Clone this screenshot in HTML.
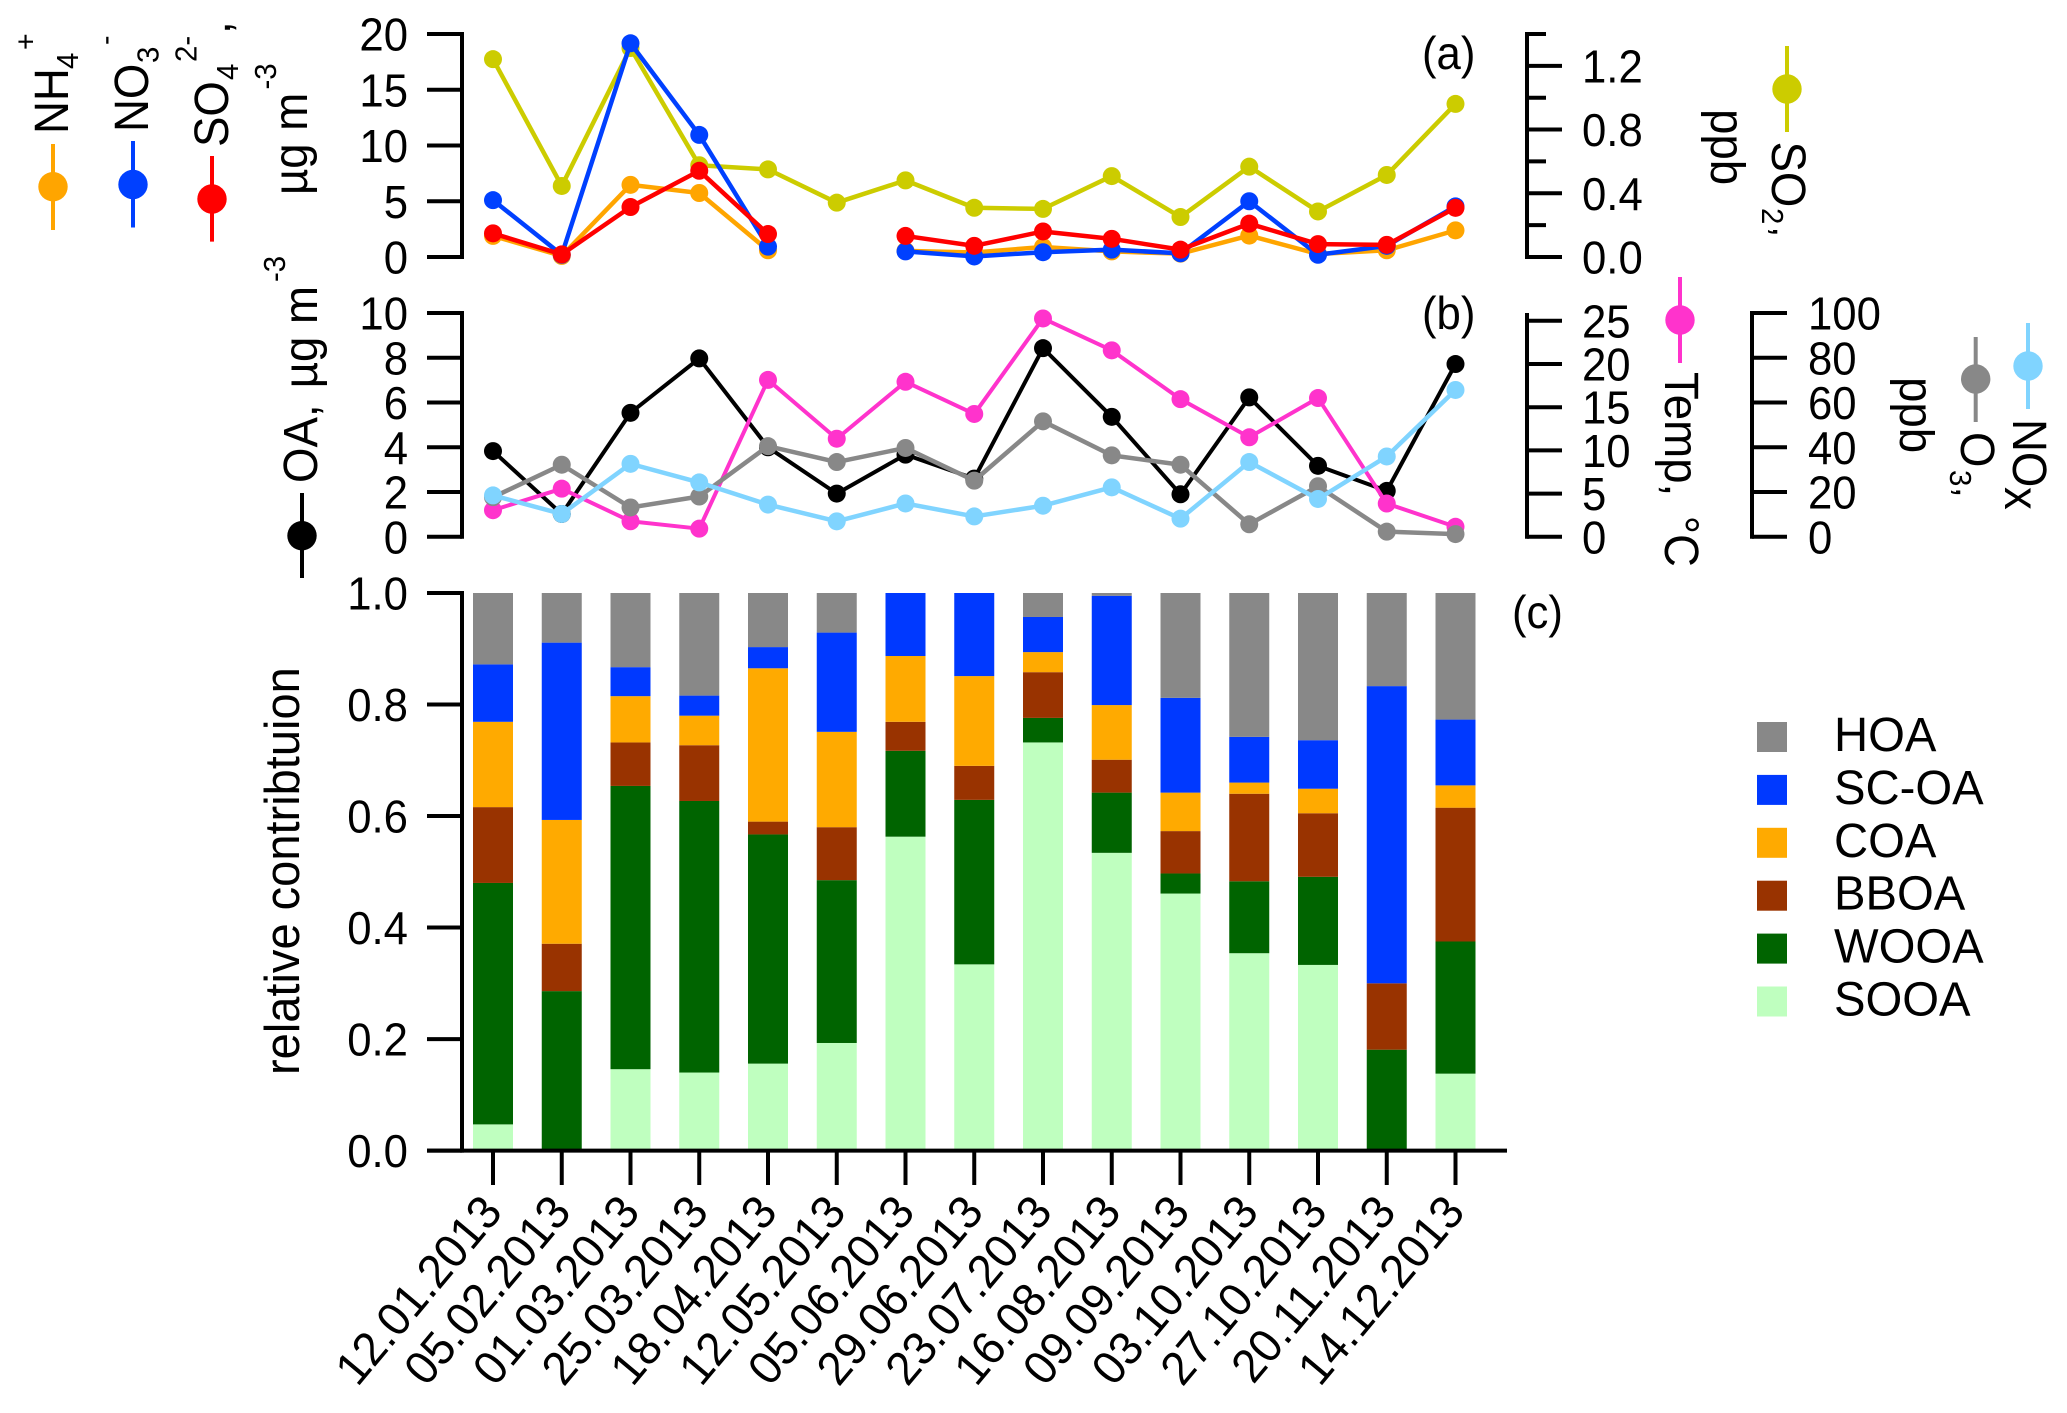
<!DOCTYPE html>
<html>
<head>
<meta charset="utf-8">
<title>Aerosol composition time series</title>
<style>
html,body{margin:0;padding:0;background:#fff;}
svg{display:block;}
text{font-family:"Liberation Sans",Arial,sans-serif;fill:#000;}
</style>
</head>
<body>
<svg id="chart" width="2067" height="1413" viewBox="0 0 2067 1413" xmlns="http://www.w3.org/2000/svg">
  <g id="static-labels" font-size="48">
    <text font-size="46" transform="translate(1422,69) scale(.95,1)">(a)</text>
    <text font-size="46" transform="translate(1422,329) scale(.95,1)">(b)</text>
    <text font-size="46" transform="translate(1512,628) scale(.95,1)">(c)</text>

    <text transform="translate(68,134) rotate(-90) scale(.95,1)">NH</text>
    <text font-size="31" transform="translate(78,69) rotate(-90) scale(.95,1)">4</text>
    <text font-size="30" transform="translate(35.5,50) rotate(-90) scale(.95,1)">+</text>
    <text transform="translate(148,132) rotate(-90) scale(.95,1)">NO</text>
    <text font-size="31" transform="translate(158.5,63) rotate(-90) scale(.95,1)">3</text>
    <text font-size="30" transform="translate(115,45) rotate(-90) scale(.95,1)">-</text>
    <text transform="translate(228,147) rotate(-90) scale(.95,1)">SO</text>
    <text font-size="31" transform="translate(238,80) rotate(-90) scale(.95,1)">4</text>
    <text font-size="31" transform="translate(196.6,62) rotate(-90) scale(.95,1)">2-</text>
    <text transform="translate(230,34) rotate(-90) scale(.95,1)">,</text>
    <text transform="translate(307,195) rotate(-90) scale(.95,1)">µg m</text>
    <text font-size="31" transform="translate(276,89.5) rotate(-90) scale(.95,1)">-3</text>

    <text transform="translate(317,483) rotate(-90) scale(.95,1)">OA,&#160;<tspan dx="3.7">µg m</tspan></text>
    <text font-size="31" transform="translate(285,282) rotate(-90) scale(.95,1)">-3</text>

    <text transform="translate(1711,109) rotate(90) scale(.95,1)">ppb</text>
    <text transform="translate(1772,141.5) rotate(90) scale(.95,1)">SO</text>
    <text font-size="31" transform="translate(1762,208) rotate(90) scale(.95,1)">2</text>
    <text font-size="40" transform="translate(1773,226.5) rotate(90) scale(.95,1)">,</text>

    <text transform="translate(1665,372) rotate(90) scale(.95,1)">Temp,&#160;&#160;<tspan dx="-6">°C</tspan></text>
    <text transform="translate(1900,377) rotate(90) scale(.95,1)">ppb</text>
    <text transform="translate(1961,432) rotate(90) scale(.95,1)">O</text>
    <text font-size="31" transform="translate(1950,470) rotate(90) scale(.95,1)">3</text>
    <text font-size="40" transform="translate(1956,487) rotate(90) scale(.95,1)">,</text>
    <text transform="translate(2013,419) rotate(90) scale(.95,1)">NO</text>
    <text transform="translate(2005,487) rotate(90) scale(.95,1)">x</text>

    <text font-size="49" transform="translate(299,1075) rotate(-90) scale(.96,1)">relative contribtuion</text>
  </g>
</svg>
<script>
/* ---------- data ---------- */
var dates = ["12.01.2013","05.02.2013","01.03.2013","25.03.2013","18.04.2013","12.05.2013","05.06.2013","29.06.2013","23.07.2013","16.08.2013","09.09.2013","03.10.2013","27.10.2013","20.11.2013","14.12.2013"];

var so2 = [1.242,0.446,1.312,0.576,0.550,0.341,0.481,0.309,0.302,0.508,0.251,0.567,0.286,0.515,0.961];
var nh4 = [1.89,0.1,6.47,5.74,0.6,null,0.55,0.4,0.9,0.5,0.3,1.92,0.27,0.6,2.39];
var no3 = [5.1,0.2,19.17,10.95,0.93,null,0.5,0.05,0.43,0.66,0.33,5.0,0.2,1.0,4.54];
var so4 = [2.12,0.23,4.48,7.73,2.06,null,1.89,1.0,2.29,1.63,0.66,2.99,1.16,1.09,4.41];

var oa = [3.83,1.02,5.54,7.97,4.0,1.93,3.67,2.6,8.43,5.36,1.90,6.23,3.17,2.05,7.72];
var temp = [3.08,5.57,1.80,0.94,18.16,11.35,17.94,14.22,25.27,21.58,15.93,11.52,16.06,3.85,1.16];
var o3 = [17.7,32.2,13.1,18.0,40.5,33.4,39.7,25.1,51.6,36.4,32.2,5.6,22.6,2.3,1.2];
var nox = [18.5,10.2,32.6,24.3,14.4,6.9,14.9,9.1,13.9,22.1,8.1,33.4,16.9,35.9,65.6];

var sooa = [0.047,0,0.146,0.140,0.156,0.193,0.563,0.334,0.732,0.534,0.461,0.354,0.333,0,0.138];
var wooa = [0.433,0.286,0.508,0.487,0.411,0.292,0.154,0.295,0.044,0.108,0.036,0.129,0.158,0.181,0.237];
var bboa = [0.136,0.085,0.078,0.100,0.023,0.095,0.052,0.061,0.082,0.059,0.076,0.157,0.114,0.119,0.240];
var coa  = [0.153,0.222,0.083,0.053,0.275,0.171,0.118,0.161,0.036,0.098,0.069,0.020,0.044,0,0.040];
var scoa = [0.103,0.318,0.052,0.036,0.038,0.178,0.113,0.149,0.063,0.196,0.170,0.082,0.087,0.533,0.118];
var hoa  = [0.128,0.089,0.133,0.184,0.097,0.071,0,0,0.043,0.005,0.188,0.258,0.264,0.167,0.227];

var ticksAL = [0,5,10,15,20];
var ticksAR = [0,0.4,0.8,1.2];
var minorAR = [0.2,0.6,1.0,1.4];
var ticksBL = [0,2,4,6,8,10];
var ticksTemp = [0,5,10,15,20,25];
var ticksPpb = [0,20,40,60,80,100];
var ticksC = [0,0.2,0.4,0.6,0.8,1.0];
var legendLabels = ["HOA","SC-OA","COA","BBOA","WOOA","SOOA"];

/* ---------- axis functions ---------- */
function xAt(i){ return 493 + 68.75 * i; }
function yAL(v){ return 257 - v * 11.15; }
function yAR(v){ return 257 - v * 159.3; }
function yBL(v){ return 536.8 - v * 22.38; }
function yTemp(v){ return 536.8 - v * 8.64; }
function yPpb(v){ return 536.8 - v * 2.238; }
function yC(v){ return 1150.6 - v * 557.6; }

var svg = document.getElementById('chart');
var NS = 'http://www.w3.org/2000/svg';
function mk(tag, parent, attrs){
  var el = document.createElementNS(NS, tag);
  for (var k in attrs) el.setAttribute(k, attrs[k]);
  parent.appendChild(el);
  return el;
}
function group(name){
  var g = mk('g', svg, {});
  
  
  return g;
}
function line(parent, name, x1, y1, x2, y2, w, color){
  var l = mk('line', parent, {x1:x1, y1:y1, x2:x2, y2:y2, stroke:color || '#000', 'stroke-width':w});
  
  
  return l;
}
function label(parent, name, x, y, txt, anchor, size, sx){
  var t = mk('text', parent, {'font-size':size || 46, 'text-anchor':anchor || 'start', transform:'translate(' + x + ',' + y + ') scale(' + (sx || 0.95) + ',1)'});
  t.textContent = txt;
  
  
  return t;
}
function fmt1(v){ return v.toFixed(1); }
function fmt0(v){ return String(v); }

function axis(name, spineX, topY, botY, tickEndX, ticks, yFn, labelX, anchor, fmt, minors, minorEndX){
  var g = group(name);
  line(g, name + '-spine', spineX, topY - 2, spineX, botY + 2, 4);
  ticks.forEach(function(v){
    line(g, name + '-tick', spineX, yFn(v), tickEndX, yFn(v), 4);
    label(g, name + '-tick-label', labelX, yFn(v) + 16.5, fmt(v), anchor);
  });
  (minors || []).forEach(function(v){
    line(g, name + '-minor-tick', spineX, yFn(v), minorEndX, yFn(v), 4);
  });
}

/* ---------- axes ---------- */
axis('panel-a-left-axis', 462, 34, 257, 427, ticksAL, yAL, 408, 'end', fmt0);
axis('panel-a-right-axis', 1527, 34, 257, 1562, ticksAR, yAR, 1582, 'start', fmt1, minorAR, 1546);
axis('panel-b-left-axis', 462, 313, 536.8, 427, ticksBL, yBL, 408, 'end', fmt0);
axis('panel-b-temperature-axis', 1527, 315, 536.8, 1562, ticksTemp, yTemp, 1582, 'start', fmt0);
axis('panel-b-ppb-axis', 1752, 313, 536.8, 1787, ticksPpb, yPpb, 1808, 'start', fmt0);
axis('panel-c-y-axis', 462, 593, 1150.6, 427, ticksC, yC, 408, 'end', fmt1);

/* ---------- line series ---------- */
function series(name, values, yFn, color, width){
  var g = group(name + '-series');
  var d = '', pen = false;
  values.forEach(function(v, i){
    if (v === null) { pen = false; return; }
    d += (pen ? 'L' : 'M') + xAt(i) + ' ' + yFn(v) + ' ';
    pen = true;
  });
  var p = mk('path', g, {d:d, fill:'none', stroke:color, 'stroke-width':width, 'stroke-linejoin':'round'});
  
  
  values.forEach(function(v, i){
    if (v === null) return;
    var c = mk('circle', g, {cx:xAt(i), cy:yFn(v), r:9, fill:color});
    
    
  });
}
series('so2', so2, yAR, '#cccc00', 4.5);
series('nh4', nh4, yAL, '#ffa500', 4.5);
series('no3', no3, yAL, '#0040ff', 4.5);
series('so4', so4, yAL, '#ff0000', 4.5);

series('oa', oa, yBL, '#000000', 4);
series('temperature', temp, yTemp, '#ff33cc', 4);
series('o3', o3, yPpb, '#888888', 4.5);
series('nox', nox, yPpb, '#80d4ff', 4.5);

/* ---------- stacked bars ---------- */
var barLayers = [
  {n:'sooa', v:sooa, c:'#bfffbf'},
  {n:'wooa', v:wooa, c:'#006400'},
  {n:'bboa', v:bboa, c:'#993300'},
  {n:'coa',  v:coa,  c:'#ffaa00'},
  {n:'scoa', v:scoa, c:'#0039ff'},
  {n:'hoa',  v:hoa,  c:'#888888'}
];
var barsG = group('stacked-bars');
dates.forEach(function(d, i){
  var base = 0;
  barLayers.forEach(function(layer){
    var val = layer.v[i];
    if (val > 0) {
      var r = mk('rect', barsG, {x:xAt(i) - 20, y:yC(base + val), width:40, height:yC(base) - yC(base + val), fill:layer.c});
      
      
    }
    base += val;
  });
});

/* ---------- x axis ---------- */
var xG = group('panel-c-x-axis');
line(xG, 'x-axis-line', 427, 1150.6, 1507, 1150.6, 4);
dates.forEach(function(d, i){
  line(xG, 'x-axis-tick', xAt(i), 1150.6, xAt(i), 1185, 4);
  var t = mk('text', xG, {'font-size':47, 'text-anchor':'end', transform:'translate(' + (xAt(i) + 11) + ',1213) rotate(-50) scale(.97,1)'});
  t.textContent = d;
  
  
});

/* ---------- bar legend ---------- */
var legendColors = ['#888888','#0039ff','#ffaa00','#993300','#006400','#bfffbf'];
var legG = group('bar-legend');
legendLabels.forEach(function(name, i){
  var top = 722 + 52.9 * i;
  var s = mk('rect', legG, {x:1757, y:top, width:30, height:30, fill:legendColors[i]});
  
  
  label(legG, 'legend-entry', 1834, top + 29, name, 'start', 48, 0.985);
});

/* ---------- series key markers ---------- */
function key(name, x, y1, y2, cy, color){
  var g = group(name + '-key-marker');
  line(g, name + '-key-line', x, y1, x, y2, 4, color);
  var c = mk('circle', g, {cx:x, cy:cy, r:14.7, fill:color});
  
  
}
key('nh4', 53, 144, 230, 186.7, '#ffa500');
key('no3', 133, 141, 227.5, 184.5, '#0040ff');
key('so4', 212, 156, 241.6, 199, '#ff0000');
key('so2', 1787, 46, 132, 89, '#cccc00');
key('oa', 302, 493, 578, 535.7, '#000000');
key('temperature', 1680, 277, 363, 320, '#ff33cc');
key('o3', 1975.7, 337, 422, 379, '#888888');
key('nox', 2028, 323, 409, 366, '#80d4ff');
</script>
</body>
</html>
